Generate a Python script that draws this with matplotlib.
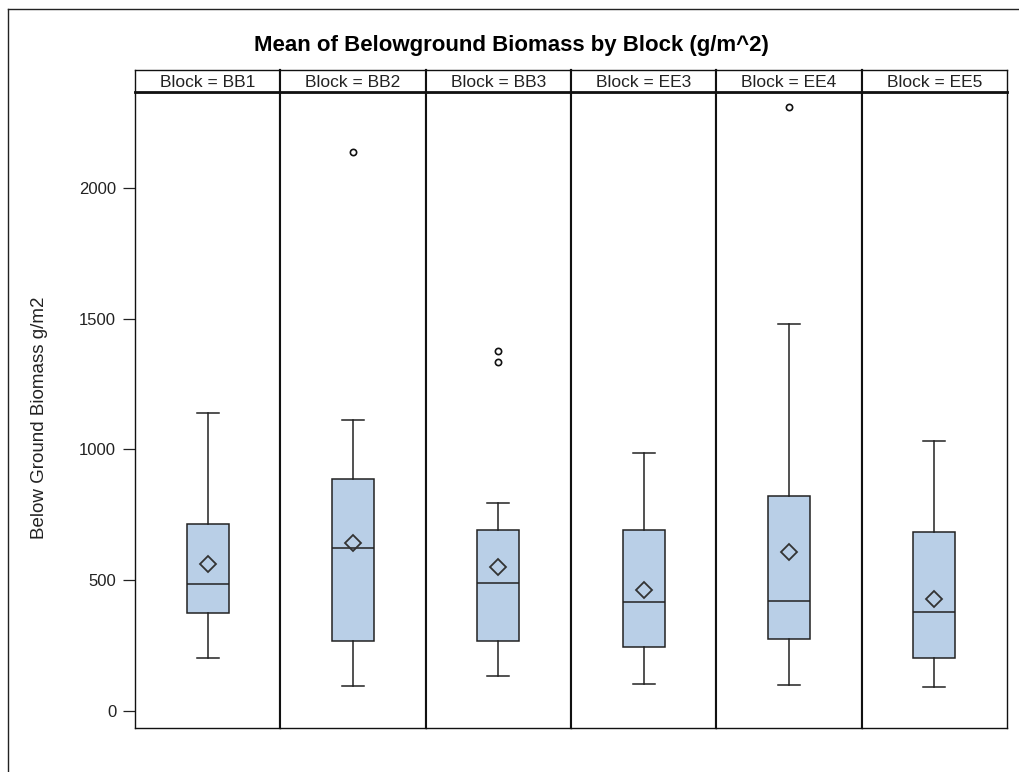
# boxplots of belowground biomass, one panel per block
import numpy as np
import matplotlib.pyplot as plt
from matplotlib.lines import Line2D

plt.rcParams['font.family'] = ['Liberation Sans', 'DejaVu Sans']

# values
blocks = ['BB1', 'BB2', 'BB3', 'EE3', 'EE4', 'EE5']
whislo = [202, 94, 134, 103, 99, 91]
q1 = [374, 268, 268, 244, 277, 201]
med = [485, 622, 488, 416, 420, 379]
q3 = [715, 886, 691, 692, 822, 683]
whishi = [1138, 1113, 794, 985, 1478, 1034]
means = [562, 642, 551, 463, 607, 428]
outliers = [[], [2137], [1333, 1377], [], [2309], []]
yticks = [0, 500, 1000, 1500, 2000]

W, H = 1019, 772
fig = plt.figure(figsize=(W / 100, H / 100), dpi=100)

# frame around the whole graph (right / bottom edges fall outside the image)
bx, by = 8 / W, 1 - 9 / H
fig.add_artist(Line2D([bx, bx], [0, by], transform=fig.transFigure, color='#222222', lw=1.0))
fig.add_artist(Line2D([bx, 1], [by, by], transform=fig.transFigure, color='#222222', lw=1.0))

fig.text(511 / W, 1 - 46 / H, 'Mean of Belowground Biomass by Block (g/m^2)',
         ha='center', va='center', fontsize=16, fontweight='bold')

left, right = 135, 1007
top, hdr_top, bottom = 92, 70, 728
pw = (right - left) / len(blocks)
n = len(blocks)

box_color = '#b9cfe7'
ax0 = None
for i, b in enumerate(blocks):
    x0 = (left + i * pw) / W
    ax = fig.add_axes([x0, 1 - bottom / H, pw / W, (bottom - top) / H], sharey=ax0)
    if ax0 is None:
        ax0 = ax
    stats = [dict(whislo=whislo[i], q1=q1[i], med=med[i], q3=q3[i], whishi=whishi[i],
                  mean=means[i], fliers=outliers[i])]
    ax.bxp(stats, positions=[0.5], widths=0.29, capwidths=0.15, showmeans=True,
           patch_artist=True,
           boxprops=dict(facecolor=box_color, edgecolor='#222222', linewidth=1.1),
           medianprops=dict(color='#222222', linewidth=1.1),
           whiskerprops=dict(color='#222222', linewidth=1.1),
           capprops=dict(color='#222222', linewidth=1.1),
           meanprops=dict(marker='D', markersize=8, markerfacecolor='none',
                          markeredgecolor='#333333', markeredgewidth=1.3),
           flierprops=dict(marker='o', markersize=4.5, markerfacecolor='none',
                           markeredgecolor='#111111', markeredgewidth=1.2))
    ax.set_xlim(0, 1)
    ax.set_ylim(-65, 2367)
    ax.set_xticks([])
    for s in ax.spines.values():
        s.set_linewidth(1.0)
        s.set_color('#111111')
    if i > 0:
        ax.spines['left'].set_linewidth(1.5)
    if i < n - 1:
        ax.spines['right'].set_linewidth(1.5)
    if i == 0:
        ax.set_yticks(yticks)
        ax.tick_params(axis='y', length=8.5, width=0.9, labelsize=12, pad=5, colors='#222222')
    else:
        ax.tick_params(axis='y', left=False, labelleft=False)

    # strip header
    hx = fig.add_axes([x0, 1 - top / H, pw / W, (top - hdr_top) / H])
    hx.set_xticks([])
    hx.set_yticks([])
    for s in hx.spines.values():
        s.set_linewidth(1.0)
        s.set_color('#111111')
    if i > 0:
        hx.spines['left'].set_linewidth(1.5)
    if i < n - 1:
        hx.spines['right'].set_linewidth(1.5)
    hx.spines['bottom'].set_linewidth(2.0)
    hx.text(0.5, 0.45, 'Block = ' + b, ha='center', va='center', fontsize=12.5,
            color='#222222', transform=hx.transAxes)

fig.text(40 / W, 1 - 418 / H, 'Below Ground Biomass g/m2', rotation=90,
         ha='center', va='center', fontsize=13.5, color='#222222')

plt.savefig('out.png', dpi=100)
